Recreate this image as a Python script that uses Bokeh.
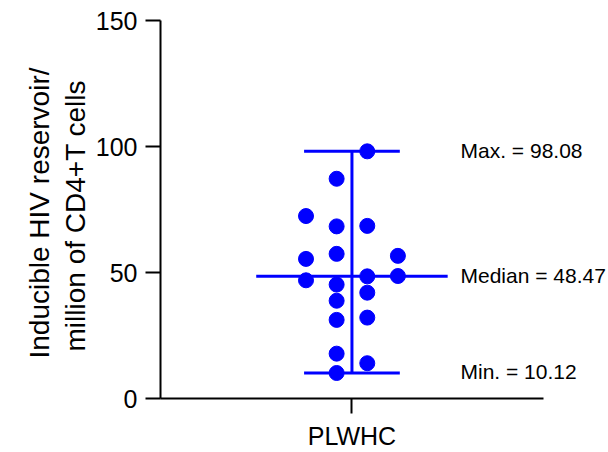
import numpy as np
from bokeh.plotting import figure
from bokeh.models import Range1d, FixedTicker, Label, ColumnDataSource, Title
from bokeh.embed import file_html
from bokeh.resources import INLINE

# Inducible HIV reservoir per million CD4+ T cells, one dot per participant
group = "PLWHC"
reservoir = [72.4, 55.4, 46.9,
             87.2, 68.3, 57.4, 45.2, 38.8, 31.2, 17.8, 10.12,
             98.08, 68.5, 48.47, 42.0, 32.1, 14.0,
             56.6, 48.6]
# swarm lane of each dot (left to right)
lane = [-3, -3, -3,
        -1, -1, -1, -1, -1, -1, -1, -1,
        1, 1, 1, 1, 1, 1,
        3, 3]
y_ticks = [0, 50, 100, 150]
y_title = ["Inducible HIV reservoir/", "million of CD4+T cells"]

vals = np.array(reservoir)
v_med = float(np.median(vals))
v_min = float(vals.min())
v_max = float(vals.max())

BLUE = "#0000FF"
FONT = "Liberation Sans"
LANE_STEP = 0.08

# the frame runs to the right edge so the summary texts fit; the x axis line
# itself stops at x = 1
p = figure(width=608, height=452, output_backend="svg", toolbar_location=None,
           x_range=Range1d(-1, 1.34), y_range=Range1d(0, 150),
           min_border_left=160, min_border_right=0,
           min_border_top=20, min_border_bottom=51)
p.outline_line_color = None
p.grid.visible = False
p.background_fill_color = "white"
p.border_fill_color = "white"

src = ColumnDataSource(dict(x=[l * LANE_STEP for l in lane], y=reservoir))

# summary lines: range whisker, median bar, min/max caps
p.segment(x0=[0], y0=[v_min], x1=[0], y1=[v_max], line_color=BLUE, line_width=3)
p.segment(x0=[-0.25, -0.25], y0=[v_min, v_max], x1=[0.25, 0.25], y1=[v_min, v_max],
          line_color=BLUE, line_width=3)
p.segment(x0=[-0.5], y0=[v_med], x1=[0.5], y1=[v_med], line_color=BLUE, line_width=3)

p.scatter("x", "y", source=src, size=15, color=BLUE, line_color=BLUE)

# annotations to the right of the summary lines
for txt, yv in [(f"Max. = {v_max:.2f}", v_max),
                (f"Median = {v_med:.2f}", v_med),
                (f"Min. = {v_min:.2f}", v_min)]:
    p.add_layout(Label(x=0.567, y=yv, y_offset=1, text=txt, text_align="left",
                       text_baseline="middle", text_font=FONT,
                       text_font_size="21px", text_color="black"))

# axes
for ax in (p.xaxis[0], p.yaxis[0]):
    ax.axis_line_color = "black"
    ax.axis_line_width = 2
    ax.major_tick_line_color = "black"
    ax.major_tick_line_width = 2
    ax.major_tick_out = 15
    ax.major_tick_in = 0
    ax.minor_tick_line_color = None
    ax.major_label_text_font = FONT
    ax.major_label_text_font_size = "25px"
    ax.major_label_text_color = "black"
    ax.major_label_standoff = 8

p.xaxis.bounds = (-1, 1)
p.xaxis.ticker = FixedTicker(ticks=[0])
p.xaxis.major_label_overrides = {0: group}
p.yaxis.ticker = FixedTicker(ticks=y_ticks)

# two-line y axis title, each line placed from the bottom of the frame
for txt, off, gap in [(y_title[1], 47, 4), (y_title[0], 40, 1)]:
    p.add_layout(Title(text=txt, align="left", offset=off, standoff=gap,
                       text_font=FONT, text_font_size="28px",
                       text_font_style="normal", text_color="black"), "left")

open("out.html", "w").write(file_html(p, INLINE))
